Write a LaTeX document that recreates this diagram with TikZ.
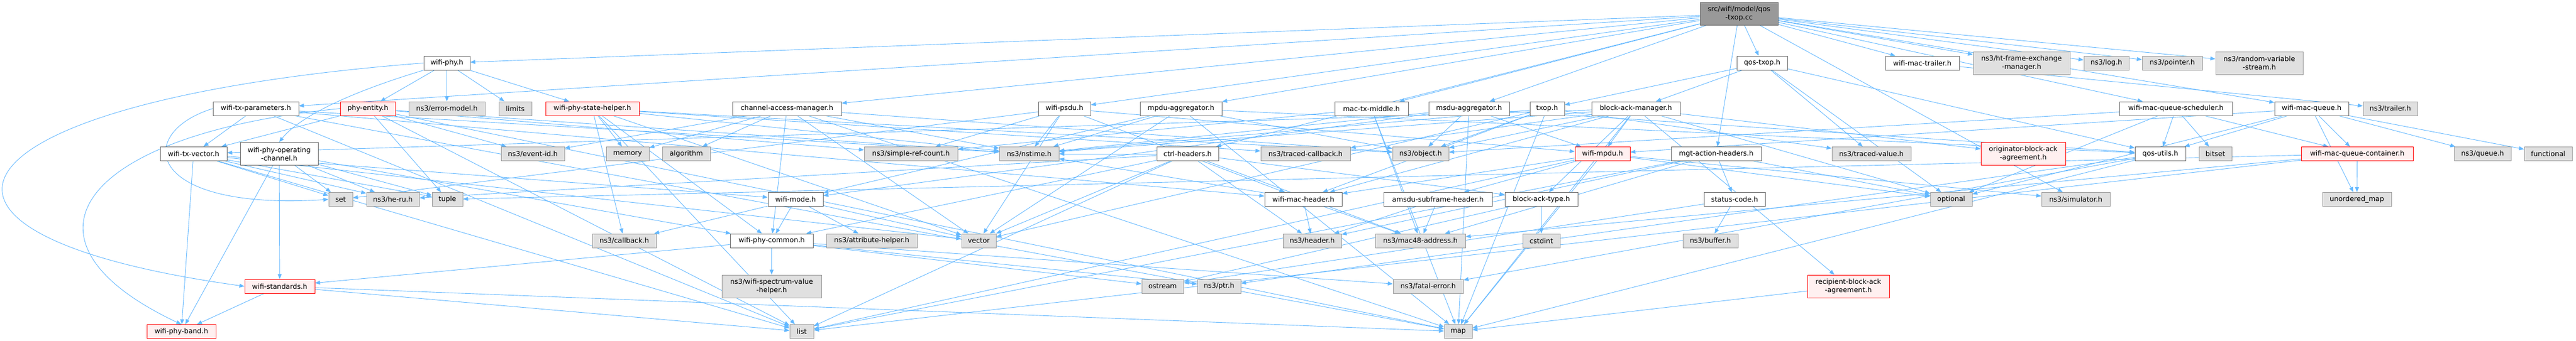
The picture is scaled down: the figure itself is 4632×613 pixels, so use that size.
\documentclass[tikz,border=0pt]{standalone}
\usepackage{fontspec}
\setmainfont{DejaVu Sans}
\usetikzlibrary{arrows.meta,backgrounds}
\definecolor{edgeblue}{HTML}{63B8FF}
\definecolor{grayfill}{HTML}{E0E0E0}
\definecolor{grayline}{HTML}{999999}
\definecolor{whiteline}{HTML}{666666}
\definecolor{redfill}{HTML}{FFF0F0}
\definecolor{rootfill}{HTML}{999999}
\begin{document}
\begin{tikzpicture}[x=1pt,y=-1pt,
  base/.style={rectangle, inner sep=0pt, line width=1pt, font=\fontsize{12.4}{15}\selectfont, align=center, text=black},
  wnode/.style={base, draw=whiteline, fill=white},
  gnode/.style={base, draw=grayline, fill=grayfill},
  rnode/.style={base, draw=red, fill=redfill},
  rootnode/.style={base, draw=whiteline, fill=rootfill},
  one/.style={minimum height=25pt},
  two/.style={minimum height=41pt},
  lnk/.style={draw=edgeblue, line width=0.9pt, -{Triangle[length=9pt,width=7pt]}}
]
\useasboundingbox (0,0) rectangle (4632,613);
% row 0
\node[rootnode, two, minimum width=140pt] (root) at (3127,25) {src/wifi/model/qos\\-txop.cc};
% row 1
\node[wnode, one, minimum width=83pt] (wifiphy) at (803.5,113.5) {wifi-phy.h};
\node[wnode, one, minimum width=91pt] (qostxoph) at (3168.5,113.5) {qos-txop.h};
\node[wnode, one, minimum width=133pt] (mactrailer) at (3456.5,113.5) {wifi-mac-trailer.h};
\node[gnode, two, minimum width=174pt] (htfem) at (3635,113.5) {ns3/ht-frame-exchange\\-manager.h};
\node[gnode, one, minimum width=81pt] (log) at (3787.5,113.5) {ns3/log.h};
\node[gnode, one, minimum width=108pt] (pointer) at (3906,113.5) {ns3/pointer.h};
\node[gnode, two, minimum width=157pt] (rvs) at (4062.5,113.5) {ns3/random-variable\\-stream.h};
% row 2
\node[wnode, one, minimum width=154pt] (txparams) at (460,195.5) {wifi-tx-parameters.h};
\node[rnode, one, minimum width=99pt] (phyentity) at (661.5,195.5) {phy-entity.h};
\node[gnode, one, minimum width=137pt] (errmodel) at (803.5,195.5) {ns3/error-model.h};
\node[gnode, one, minimum width=59pt] (limits) at (926.5,195.5) {limits};
\node[rnode, one, minimum width=168pt] (statehelper) at (1065,195.5) {wifi-phy-state-helper.h};
\node[wnode, one, minimum width=196pt] (cam) at (1415,195.5) {channel-access-manager.h};
\node[wnode, one, minimum width=94pt] (psdu) at (1914,195.5) {wifi-psdu.h};
\node[wnode, one, minimum width=147pt] (mpduagg) at (2123.5,195.5) {mpdu-aggregator.h};
\node[wnode, one, minimum width=132pt] (mactxmiddle) at (2466,195.5) {mac-tx-middle.h};
\node[wnode, one, minimum width=145pt] (msduagg) at (2641.5,195.5) {msdu-aggregator.h};
\node[wnode, one, minimum width=62pt] (txop) at (2782,195.5) {txop.h};
\node[wnode, one, minimum width=159pt] (bam) at (2941.5,195.5) {block-ack-manager.h};
\node[wnode, one, minimum width=203pt] (sched) at (3912.5,195.5) {wifi-mac-queue-scheduler.h};
\node[wnode, one, minimum width=133pt] (macqueue) at (4156.5,195.5) {wifi-mac-queue.h};
\node[gnode, one, minimum width=98pt] (trailer) at (4298,195.5) {ns3/trailer.h};
% row 3
\node[wnode, one, minimum width=120pt] (txvector) at (348,277) {wifi-tx-vector.h};
\node[wnode, two, minimum width=140pt] (opchan) at (502,277) {wifi-phy-operating\\-channel.h};
\node[gnode, one, minimum width=114pt] (eventid) at (958,277) {ns3/event-id.h};
\node[gnode, one, minimum width=77pt] (memory) at (1128.5,277) {memory};
\node[gnode, one, minimum width=86pt] (algorithm) at (1234,277) {algorithm};
\node[gnode, one, minimum width=168pt] (simpleref) at (1638,277) {ns3/simple-ref-count.h};
\node[gnode, one, minimum width=107pt] (nstime) at (1850.5,277) {ns3/nstime.h};
\node[wnode, one, minimum width=111pt] (ctrlh) at (2135.5,277) {ctrl-headers.h};
\node[gnode, one, minimum width=161pt] (tracedcb) at (2347.5,277) {ns3/traced-callback.h};
\node[gnode, one, minimum width=101pt] (object) at (2554.5,277) {ns3/object.h};
\node[rnode, one, minimum width=99pt] (mpdu) at (2881.5,277) {wifi-mpdu.h};
\node[wnode, one, minimum width=162pt] (mgtact) at (3086,277) {mgt-action-headers.h};
\node[gnode, one, minimum width=142pt] (tracedval) at (3365,277) {ns3/traced-value.h};
\node[rnode, two, minimum width=152pt] (origbaa) at (3638,277) {originator-block-ack\\-agreement.h};
\node[wnode, one, minimum width=91pt] (qosutils) at (3884.5,277) {qos-utils.h};
\node[gnode, one, minimum width=59pt] (bitset) at (3983.5,277) {bitset};
\node[rnode, one, minimum width=201pt] (container) at (4238.5,277) {wifi-mac-queue-container.h};
\node[gnode, one, minimum width=102pt] (queue) at (4464,277) {ns3/queue.h};
\node[gnode, one, minimum width=86pt] (functional) at (4582,277) {functional};
% row 4
\node[gnode, one, minimum width=43pt] (set) at (612.5,359) {set};
\node[gnode, one, minimum width=95pt] (heru) at (706.5,359) {ns3/he-ru.h};
\node[gnode, one, minimum width=55pt] (tuple) at (804.5,359) {tuple};
\node[wnode, one, minimum width=99pt] (wifimode) at (1430.5,359) {wifi-mode.h};
\node[wnode, one, minimum width=139pt] (macheader) at (2343.5,359) {wifi-mac-header.h};
\node[wnode, one, minimum width=195pt] (amsdu) at (2585.5,359) {amsdu-subframe-header.h};
\node[wnode, one, minimum width=131pt] (batype) at (2771.5,359) {block-ack-type.h};
\node[wnode, one, minimum width=110pt] (status) at (3119,359) {status-code.h};
\node[gnode, one, minimum width=75pt] (optional) at (3508.5,359) {optional};
\node[gnode, one, minimum width=123pt] (simulator) at (3732.5,359) {ns3/simulator.h};
\node[gnode, one, minimum width=124pt] (umap) at (4238,359) {unordered\_map};
% row 5
\node[gnode, one, minimum width=115pt] (callback) at (1122.5,433.5) {ns3/callback.h};
\node[wnode, one, minimum width=149pt] (phycommon) at (1387.5,433.5) {wifi-phy-common.h};
\node[gnode, one, minimum width=163pt] (attrhelper) at (1567.5,433.5) {ns3/attribute-helper.h};
\node[gnode, one, minimum width=62pt] (vector) at (1760,433.5) {vector};
\node[gnode, one, minimum width=105pt] (header) at (2359.5,433.5) {ns3/header.h};
\node[gnode, one, minimum width=162pt] (mac48) at (2554,433.5) {ns3/mac48-address.h};
\node[gnode, one, minimum width=67pt] (cstdint) at (2771.5,433.5) {cstdint};
\node[gnode, one, minimum width=99pt] (buffer) at (3075.5,433.5) {ns3/buffer.h};
% row 6
\node[rnode, one, minimum width=126pt] (standards) at (503,515.5) {wifi-standards.h};
\node[gnode, two, minimum width=179pt] (spectrum) at (1387.5,515.5) {ns3/wifi-spectrum-value\\-helper.h};
\node[gnode, one, minimum width=75pt] (ostream) at (2090.5,515.5) {ostream};
\node[gnode, one, minimum width=78pt] (ptr) at (2192,515.5) {ns3/ptr.h};
\node[gnode, one, minimum width=126pt] (fatal) at (2568,515.5) {ns3/fatal-error.h};
\node[rnode, two, minimum width=147pt] (rbaa) at (3323.5,515.5) {recipient-block-ack\\-agreement.h};
% row 7
\node[rnode, one, minimum width=124pt] (band) at (326,597) {wifi-phy-band.h};
\node[gnode, one, minimum width=43pt] (list) at (1441.5,597) {list};
\node[gnode, one, minimum width=50pt] (map) at (2622,597) {map};

\begin{pgfonlayer}{background}
\fill[white] (0,0) rectangle (4632,613);
\foreach \src/\dst in {
  root/qostxoph, root/mactrailer, root/htfem, root/log, root/pointer, root/rvs,
  root/wifiphy, root/txparams, root/cam, root/psdu, root/mpduagg, root/mactxmiddle,
  root/msduagg, root/mgtact, root/ctrlh, root/sched, root/macqueue, root/simulator,
  qostxoph/bam, qostxoph/qosutils, qostxoph/txop, qostxoph/tracedval, qostxoph/optional,
  wifiphy/phyentity, wifiphy/errmodel, wifiphy/limits, wifiphy/statehelper,
  phyentity/txvector, phyentity/tuple, phyentity/eventid, phyentity/nstime,
  phyentity/simpleref, phyentity/list, phyentity/map,
  statehelper/memory, statehelper/callback, statehelper/list, statehelper/phycommon,
  statehelper/nstime, statehelper/object, statehelper/tracedcb, statehelper/vector,
  cam/eventid, cam/memory, cam/algorithm, cam/phycommon, cam/nstime, cam/object,
  cam/map, cam/vector,
  txparams/txvector, txparams/macheader, txparams/nstime, txparams/list, txparams/map,
  txvector/wifimode, txvector/band, txvector/heru, txvector/set, txvector/vector,
  txvector/list, txvector/tuple,
  opchan/band, opchan/standards, opchan/set, opchan/heru, opchan/tuple, opchan/phycommon,
  standards/band, standards/list, standards/map,
  wifimode/callback, wifimode/phycommon, wifimode/attrhelper, wifimode/vector,
  phycommon/standards, phycommon/spectrum, phycommon/ostream, phycommon/ptr, phycommon/fatal,
  psdu/nstime, psdu/vector, psdu/set, psdu/simpleref, psdu/macheader, psdu/mpdu,
  mpduagg/qosutils, mpduagg/wifimode, mpduagg/nstime, mpduagg/object, mpduagg/map, mpduagg/vector,
  mactxmiddle/simpleref, mactxmiddle/mac48, mactxmiddle/map,
  msduagg/qosutils, msduagg/wifimode, msduagg/nstime, msduagg/object, msduagg/mpdu, msduagg/map,
  txop/macheader, txop/nstime, txop/object, txop/tracedval, txop/map, txop/vector,
  bam/batype, bam/origbaa, bam/rbaa, bam/macheader, bam/mpdu, bam/txvector, bam/nstime,
  bam/object, bam/tracedcb, bam/map, bam/optional,
  mpdu/amsdu, mpdu/macheader, mpdu/simulator, mpdu/list, mpdu/optional, mpdu/map,
  macheader/header, macheader/mac48, macheader/nstime,
  amsdu/header, amsdu/mac48,
  batype/cstdint, batype/ostream,
  mgtact/status, mgtact/header, mgtact/mac48, mgtact/optional, mgtact/list,
  status/buffer, status/ostream,
  ctrlh/batype, ctrlh/phycommon, ctrlh/heru, ctrlh/header, ctrlh/mac48, ctrlh/nstime,
  ctrlh/list, ctrlh/vector,
  qosutils/fatal, qosutils/ptr, qosutils/map,
  sched/qosutils, sched/container, sched/object, sched/bitset, sched/optional,
  macqueue/qosutils, macqueue/container, macqueue/mpdu, macqueue/queue,
  macqueue/functional, macqueue/optional, macqueue/umap,
  container/umap, container/list, container/tuple, container/mac48,
  mactrailer/trailer, rbaa/map}
  {\draw[lnk] (\src) -- (\dst);}
\draw[lnk] (wifiphy.west) .. controls (-100,180) and (-250,420) .. (standards.west);
\draw[lnk] (phyentity.west) .. controls (150,240) and (0,430) .. (band.north);
\draw[lnk] (wifiphy.south west) .. controls (600,175) and (530,220) .. (opchan.north);
\draw[lnk] (txparams.west) .. controls (240,240) and (260,380) .. (set.west);
\end{pgfonlayer}
\end{tikzpicture}
\end{document}
